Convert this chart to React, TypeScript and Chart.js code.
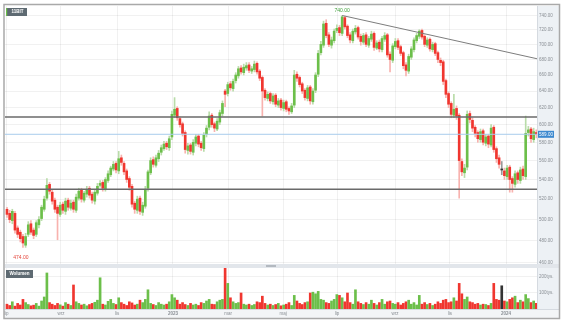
import React, { useEffect, useRef } from 'react';
import { Chart, registerables } from 'chart.js';

Chart.register(...registerables);

const FONT = "'Liberation Sans', Arial, sans-serif";

const tickerName = '11BIT';
const volumeTitle = 'Wolumen';

const opens = [
  510, 506, 499, 506, 492, 488, 484, 476, 486, 496,
  490, 486, 495, 501, 510, 521, 535, 527, 519, 512,
  505, 515, 508, 519, 511, 517, 509, 521, 529, 519,
  525, 531, 525, 518, 526, 534, 537, 530, 539, 545,
  551, 557, 549, 563, 557, 549, 541, 533, 516, 509,
  521, 507, 513, 531, 547, 561, 555, 562, 569, 573,
  579, 574, 586, 611, 619, 607, 601, 591, 571, 577,
  569, 579, 587, 579, 573, 589, 597, 611, 601, 595,
  603, 613, 640, 637, 649, 643, 653, 659, 669, 663,
  669, 673, 665, 667, 675, 665, 657, 641, 631, 637,
  627, 635, 623, 629, 619, 627, 619, 615, 623, 661,
  657, 649, 641, 631, 645, 627, 641, 661, 689, 699,
  729, 713, 699, 705, 719, 723, 715, 737, 725, 713,
  705, 717, 723, 711, 703, 713, 699, 707, 715, 695,
  703, 693, 707, 713, 687, 679, 697, 705, 697, 689,
  673, 665, 683, 693, 705, 711, 719, 711, 699, 707,
  693, 701, 689, 679, 677, 653, 637, 625, 611, 619,
  611, 559, 547, 553, 613, 605, 597, 591, 583, 593,
  579, 587, 577, 597, 573, 563, 550, 549, 543, 553,
  541, 535, 547, 539, 551, 543, 591, 595, 583, 591,
];

const highs = [
  512, 509, 510, 508, 494, 490, 486, 487, 498, 499,
  492, 499, 503, 514, 523, 541, 537, 529, 521, 514,
  517, 517, 521, 521, 519, 519, 525, 531, 531, 528,
  533, 533, 527, 529, 536, 539, 539, 542, 549, 554,
  559, 559, 570, 566, 559, 551, 543, 535, 518, 523,
  523, 517, 533, 550, 563, 564, 566, 571, 577, 581,
  581, 587, 616, 632, 621, 609, 603, 593, 579, 579,
  583, 589, 589, 581, 591, 599, 615, 613, 603, 607,
  617, 628, 642, 651, 652, 655, 663, 671, 672, 674,
  676, 676, 671, 678, 677, 667, 659, 643, 639, 639,
  637, 637, 631, 631, 629, 629, 621, 625, 666, 664,
  659, 651, 643, 647, 647, 643, 663, 692, 704, 732,
  734, 716, 710, 721, 727, 726, 740, 739, 727, 716,
  721, 726, 725, 714, 715, 716, 711, 718, 717, 705,
  706, 711, 716, 715, 690, 701, 708, 708, 699, 691,
  676, 687, 697, 709, 715, 720, 721, 713, 709, 709,
  703, 703, 691, 682, 679, 655, 639, 627, 636, 622,
  613, 562, 556, 616, 616, 608, 599, 593, 595, 595,
  589, 589, 600, 599, 575, 566, 559, 552, 555, 555,
  543, 549, 549, 553, 554, 610, 598, 597, 596, 594,
];

const lows = [
  502, 497, 496, 487, 483, 479, 474, 474, 484, 486,
  482, 484, 492, 499, 508, 519, 525, 515, 507, 481,
  503, 506, 505, 509, 509, 507, 507, 519, 517, 517,
  522, 521, 516, 515, 524, 532, 528, 528, 537, 543,
  549, 547, 546, 555, 545, 537, 529, 512, 506, 506,
  505, 504, 511, 528, 545, 553, 553, 559, 566, 571,
  572, 571, 583, 608, 605, 597, 587, 568, 567, 567,
  566, 576, 575, 571, 570, 586, 594, 597, 592, 593,
  600, 610, 621, 634, 641, 640, 650, 656, 661, 660,
  666, 663, 662, 664, 661, 653, 610, 629, 628, 625,
  624, 621, 620, 617, 616, 615, 612, 613, 620, 652,
  645, 637, 629, 628, 624, 624, 638, 658, 686, 696,
  709, 697, 695, 702, 716, 712, 712, 721, 709, 702,
  702, 714, 707, 699, 700, 697, 696, 704, 692, 693,
  690, 690, 704, 683, 664, 676, 694, 693, 685, 668,
  659, 662, 680, 690, 702, 708, 707, 697, 696, 691,
  690, 685, 676, 672, 648, 632, 620, 608, 608, 606,
  521, 544, 542, 550, 602, 592, 586, 580, 580, 577,
  576, 574, 575, 569, 558, 552, 545, 540, 540, 527,
  527, 532, 536, 536, 540, 540, 587, 580, 580, 585,
];

const closes = [
  505, 500, 508, 490, 486, 482, 478, 484, 495, 488,
  485, 497, 500, 512, 520, 534, 528, 518, 510, 506,
  514, 509, 518, 512, 516, 510, 522, 528, 520, 526,
  530, 524, 519, 527, 533, 536, 531, 540, 546, 552,
  556, 550, 562, 558, 548, 540, 532, 515, 510, 520,
  508, 514, 530, 548, 560, 556, 563, 568, 574, 578,
  575, 584, 612, 618, 608, 600, 590, 572, 576, 570,
  580, 586, 578, 574, 588, 596, 610, 600, 596, 604,
  614, 625, 636, 648, 644, 652, 660, 668, 664, 670,
  672, 666, 668, 674, 664, 656, 640, 632, 636, 628,
  634, 624, 628, 620, 626, 618, 616, 622, 660, 656,
  648, 640, 632, 644, 628, 640, 660, 688, 700, 728,
  712, 700, 706, 718, 722, 716, 738, 724, 712, 706,
  718, 722, 710, 704, 712, 700, 708, 714, 696, 702,
  694, 708, 712, 686, 680, 698, 704, 696, 688, 672,
  666, 684, 694, 706, 712, 718, 710, 700, 706, 694,
  700, 688, 680, 676, 652, 636, 624, 612, 618, 610,
  560, 548, 552, 612, 606, 596, 590, 584, 592, 580,
  586, 578, 596, 572, 562, 556, 550, 544, 552, 540,
  536, 546, 540, 550, 544, 590, 594, 584, 592, 589,
];

// volume in thousands of shares
const volumes = [
  30, 22, 45, 18, 35, 25, 60, 40, 28, 20,
  24, 35, 18, 50, 75, 225, 40, 30, 22, 35,
  26, 18, 40, 30, 22, 150, 45, 35, 25, 30,
  20, 28, 35, 42, 55, 195, 30, 25, 48, 60,
  35, 28, 70, 40, 30, 22, 45, 38, 25, 30,
  55, 40, 60, 120, 35, 28, 22, 40, 30, 25,
  30, 45, 90, 70, 55, 30, 40, 28, 22, 35,
  25, 30, 22, 40, 35, 50, 60, 30, 28, 45,
  55, 60, 255, 160, 70, 45, 35, 40, 100, 30,
  25, 30, 22, 28, 45, 40, 80, 35, 25, 30,
  22, 28, 35, 20, 25, 30, 40, 22, 85, 50,
  35, 28, 40, 45, 100, 105, 95, 110, 60, 55,
  40, 35, 50, 60, 90, 85, 70, 45, 100, 40,
  30, 120, 45, 35, 28, 40, 30, 55, 35, 25,
  40, 60, 30, 45, 50, 35, 30, 40, 25, 35,
  45, 55, 30, 40, 25, 85, 30, 40, 28, 35,
  22, 30, 45, 35, 55, 60, 40, 45, 70, 50,
  160, 95, 60, 75, 45, 40, 30, 35, 25, 30,
  28, 22, 35, 160, 60, 55, 145, 50, 45, 60,
  70, 80, 40, 55, 45, 90, 65, 40, 50, 35,
];

const monthTickPositions = [-0.3, 20.3, 41.4, 62.4, 83.1, 103.8, 124.1, 145.9, 166.5, 187.6];
const monthTickLabels = ['lip', 'wrz', 'lis', '2023', 'mar', 'maj', 'lip', 'wrz', 'lis', '2024'];
const priceTicks = [460, 480, 500, 520, 540, 560, 580, 600, 620, 640, 660, 680, 700, 720, 740];
const volumeTicks = [100, 200];
const supportLevels = [609, 530];
const lastPrice = 589;
const trendStart = { x: 126, y: 740 };
const trendEnd = { x: 199.25, y: 681 };
const peakMark = { x: 126, y: 740, text: '740.00' };
const lowMark = { x: 6, y: 474, text: '474.00' };

const X_MIN = -0.75;
const X_MAX = 199.25;
const PRICE_MIN = 459.1;
const PRICE_MAX = 753.6;
const VOL_MAX = 281;

const UP = '#6cbf4a';
const DOWN = '#f0362f';
const FLAT = '#333333';
const UP_WICK = '#b9dca9';
const DOWN_WICK = '#f8b2ae';
const GRID = 'rgba(0,0,0,0.055)';
const LABEL = '#8a8f95';

const decor = {
  id: 'decor',
  beforeDraw(chart: any) {
    const { ctx, chartArea: a, scales } = chart;
    const right = scales.y.right;
    ctx.save();
    ctx.fillStyle = '#ffffff';
    ctx.fillRect(0, 0, chart.width, chart.height);
    ctx.fillStyle = '#edf1f5';
    ctx.fillRect(a.right, a.top, right - a.right, a.bottom - a.top);
    ctx.fillStyle = '#f3f5f7';
    ctx.fillRect(a.left, a.bottom, right - a.left, scales.x.bottom - a.bottom);
    ctx.strokeStyle = '#d5dae0';
    ctx.lineWidth = 1;
    ctx.beginPath();
    ctx.moveTo(a.right + 0.5, a.top);
    ctx.lineTo(a.right + 0.5, a.bottom);
    ctx.moveTo(a.left, a.bottom + 0.5);
    ctx.lineTo(right, a.bottom + 0.5);
    ctx.stroke();
    ctx.restore();
  },
  afterDatasetsDraw(chart: any) {
    const { ctx, chartArea: a, scales } = chart;
    const top = scales.y.bottom;
    ctx.save();
    ctx.fillStyle = '#e2e6eb';
    ctx.fillRect(a.left, top, scales.y.right - a.left, 4);
    const cx = (a.left + a.right) / 2;
    ctx.fillStyle = '#b3b9c0';
    ctx.fillRect(cx - 5, top + 1, 10, 2);
    ctx.restore();
  },
  afterDraw(chart: any) {
    const { ctx, chartArea: a, scales } = chart;
    const py = scales.y;
    const pv = scales.yVol;
    const px = scales.x;
    ctx.save();
    // frame
    ctx.strokeStyle = '#a9a9a9';
    ctx.lineWidth = 1.5;
    ctx.strokeRect(4, 4.5, 555.5, 314);

    ctx.font = `bold 4.5px ${FONT}`;
    ctx.textBaseline = 'middle';
    ctx.textAlign = 'center';
    // ticker box
    ctx.fillStyle = '#5e6a72';
    ctx.fillRect(a.left + 1, a.top + 2, 21, 8);
    ctx.fillStyle = UP;
    ctx.fillRect(a.left + 1, a.top + 2, 1.2, 8);
    ctx.fillStyle = '#ffffff';
    ctx.fillText(tickerName, a.left + 12.5, a.top + 6.2);
    // volume box
    ctx.fillStyle = '#5e6a72';
    ctx.fillRect(a.left + 1, pv.top + 6, 27, 8);
    ctx.fillStyle = '#ffffff';
    ctx.fillText(volumeTitle, a.left + 14.5, pv.top + 10.2);

    // last price tag
    const ly = py.getPixelForValue(lastPrice);
    ctx.fillStyle = '#3b88cf';
    ctx.fillRect(a.right + 1, ly - 3.5, 16, 7);
    ctx.fillStyle = '#ffffff';
    ctx.font = `4.5px ${FONT}`;
    ctx.fillText(lastPrice.toFixed(2), a.right + 9, ly + 0.2);

    // high / low marks
    ctx.fillStyle = '#3f9f3a';
    ctx.textBaseline = 'bottom';
    ctx.font = `5px ${FONT}`;
    ctx.fillText(peakMark.text, px.getPixelForValue(peakMark.x), py.getPixelForValue(peakMark.y) - 2);
    ctx.fillStyle = '#e5473d';
    ctx.textBaseline = 'top';
    ctx.fillText(lowMark.text, px.getPixelForValue(lowMark.x) - 2, py.getPixelForValue(lowMark.y) + 8);
    ctx.restore();
  },
};

export default function App() {
  const ref = useRef<HTMLCanvasElement>(null);

  useEffect(() => {
    document.body.style.margin = '0';
    const canvas = ref.current;
    if (!canvas) return;
    const dir = closes.map((c, i) => (c > opens[i] ? 1 : c < opens[i] ? -1 : 0));
    const bodyColors = dir.map((d) => (d > 0 ? UP : d < 0 ? DOWN : FLAT));
    const wickColors = dir.map((d) => (d > 0 ? UP_WICK : d < 0 ? DOWN_WICK : '#999999'));

    const wickData = closes.map((_, i) => ({ x: i, y: [lows[i], highs[i]] }));
    const bodyData = closes.map((c, i) => ({ x: i, y: [opens[i], c] }));
    const volData = volumes.map((v, i) => ({ x: i, y: v }));

    const hLine = (v: number) => [
      { x: X_MIN, y: v },
      { x: X_MAX, y: v },
    ];

    const lineDs = (data: any[], color: string, width: number) => ({
      type: 'line' as const,
      data,
      borderColor: color,
      borderWidth: width,
      pointRadius: 0,
      xAxisID: 'x',
      yAxisID: 'y',
      order: 0,
    });

    const chart = new Chart(canvas, {
      type: 'bar',
      data: {
        datasets: [
          lineDs(hLine(supportLevels[0]), '#6a6a6a', 1.5),
          lineDs(hLine(supportLevels[1]), '#6a6a6a', 1.5),
          lineDs(hLine(lastPrice), '#a9cdec', 1),
          lineDs([trendStart, trendEnd], '#7d7d7d', 1),
          {
            type: 'bar',
            data: bodyData as any,
            backgroundColor: bodyColors,
            barThickness: 2,
            minBarLength: 1,
            grouped: false,
            borderWidth: 0,
            xAxisID: 'x',
            yAxisID: 'y',
            order: 1,
          },
          {
            type: 'bar',
            data: wickData as any,
            backgroundColor: wickColors,
            barThickness: 1,
            grouped: false,
            borderWidth: 0,
            xAxisID: 'x',
            yAxisID: 'y',
            order: 2,
          },
          {
            type: 'bar',
            data: volData as any,
            backgroundColor: bodyColors,
            barThickness: 2,
            grouped: false,
            borderWidth: 0,
            xAxisID: 'x',
            yAxisID: 'yVol',
            order: 3,
          },
        ] as any,
      },
      options: {
        animation: false,
        responsive: false,
        maintainAspectRatio: false,
        events: [],
        layout: { padding: { left: 5, top: 6, right: 5, bottom: 5 } },
        plugins: { legend: { display: false }, tooltip: { enabled: false } },
        scales: {
          x: {
            type: 'linear',
            min: X_MIN,
            max: X_MAX,
            offset: false,
            grid: { color: GRID, drawTicks: false, offset: false } as any,
            border: { display: false },
            afterBuildTicks: (s: any) => {
              s.ticks = monthTickPositions.map((v) => ({ value: v }));
            },
            afterFit: (s: any) => {
              s.height = 9;
            },
            ticks: {
              autoSkip: false,
              maxRotation: 0,
              padding: 2,
              color: LABEL,
              font: (ctx: any) => ({
                family: FONT,
                size: 4.5,
                weight: /^\d+$/.test(monthTickLabels[ctx.index] || '') ? 'bold' : 'normal',
              }),
              callback: (_v: any, i: number) => monthTickLabels[i],
            },
          },
          y: {
            type: 'logarithmic',
            position: 'right',
            stack: 'panes',
            stackWeight: 258,
            min: PRICE_MIN,
            max: PRICE_MAX,
            grid: { color: GRID, drawTicks: false },
            border: { display: false },
            afterBuildTicks: (s: any) => {
              s.ticks = priceTicks.map((v) => ({ value: v }));
            },
            afterFit: (s: any) => {
              s.width = 22;
            },
            ticks: {
              autoSkip: false,
              padding: 2,
              color: LABEL,
              font: { family: FONT, size: 4.5 },
              callback: (v: any) => Number(v).toFixed(2),
            },
          },
          yVol: {
            type: 'linear',
            position: 'right',
            stack: 'panes',
            stackWeight: 45,
            min: 0,
            max: VOL_MAX,
            grid: { color: GRID, drawTicks: false },
            border: { display: false },
            afterBuildTicks: (s: any) => {
              s.ticks = volumeTicks.map((v) => ({ value: v }));
            },
            afterFit: (s: any) => {
              s.width = 22;
            },
            ticks: {
              autoSkip: false,
              padding: 2,
              color: LABEL,
              font: { family: FONT, size: 4.5 },
              callback: (v: any) => `${v}tys.`,
            },
          },
        },
      } as any,
      plugins: [decor],
    });

    return () => chart.destroy();
  }, []);

  return (
    <div style={{ width: 564, height: 323, position: 'relative' }}>
      <canvas ref={ref} width={564} height={323} style={{ display: 'block', width: 564, height: 323 }} />
    </div>
  );
}
